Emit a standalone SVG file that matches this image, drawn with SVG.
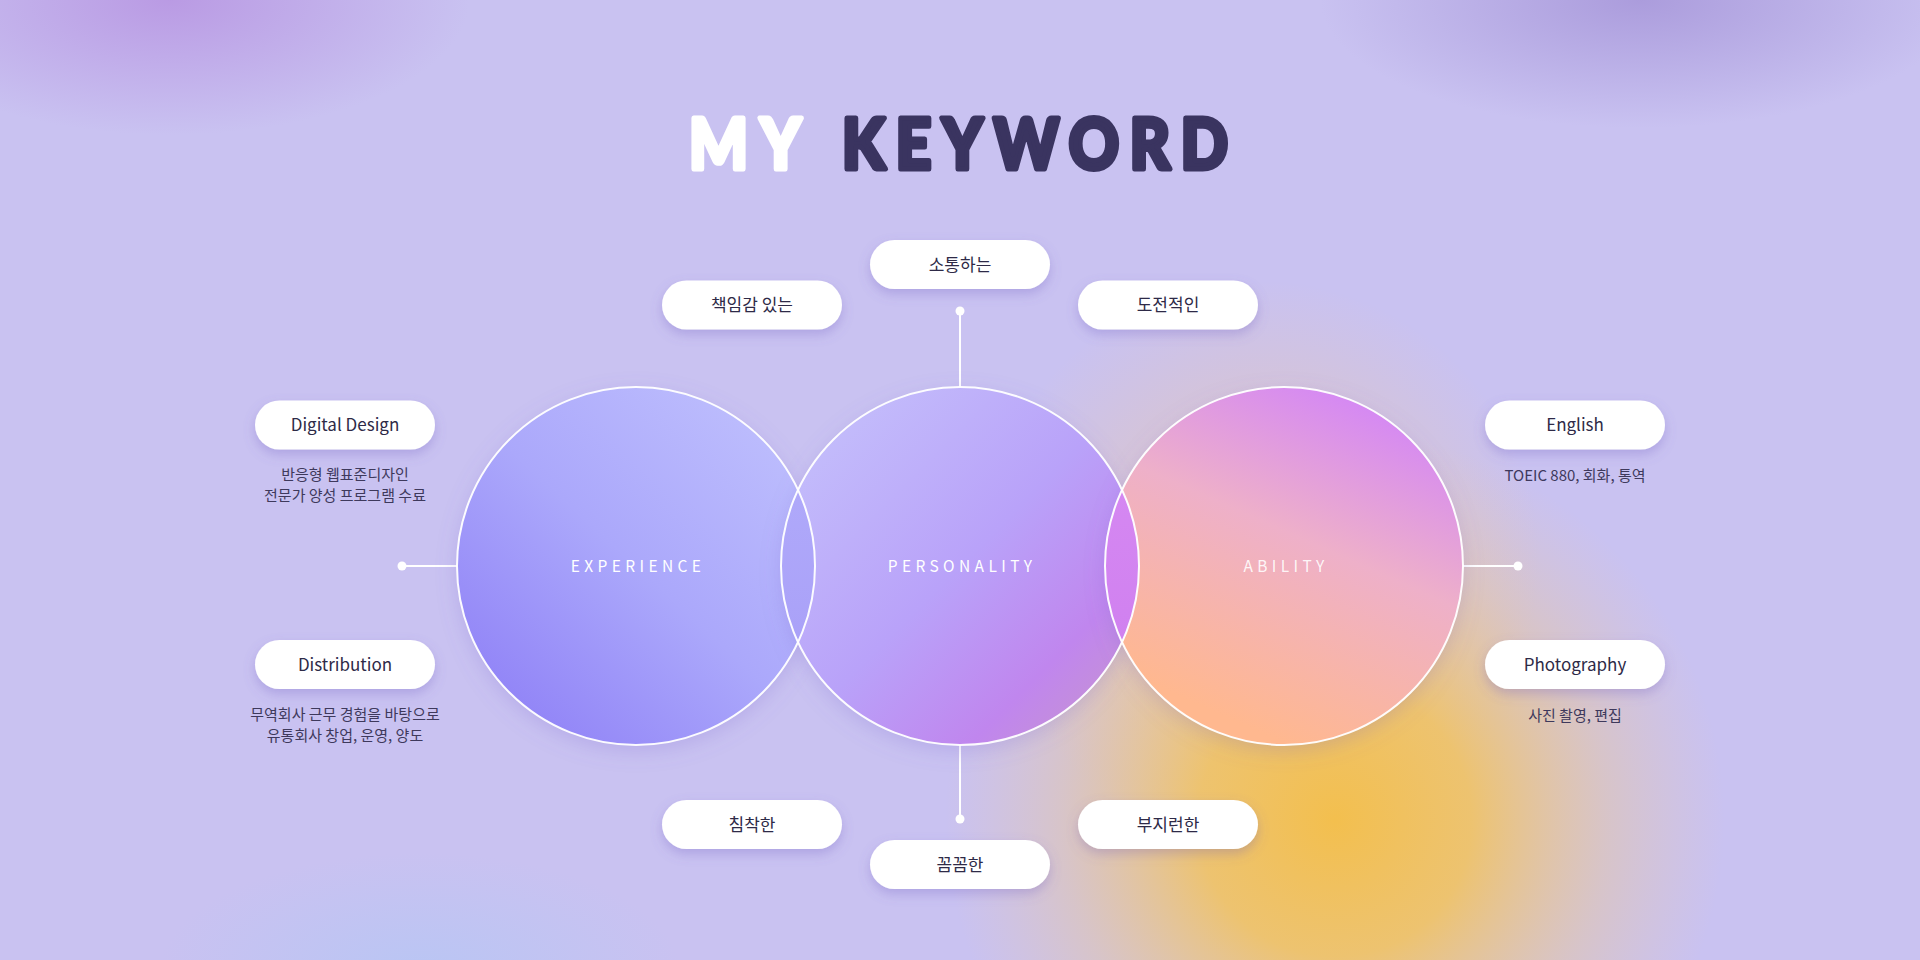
<svg xmlns="http://www.w3.org/2000/svg" width="1920" height="960" viewBox="0 0 1920 960">
<defs>
<style>
.pill{fill:#ffffff;filter:url(#pshadow)}
.pt{font-family:"Noto Sans CJK KR","Noto Sans",sans-serif;font-size:17px;font-weight:400;fill:#2e2a47;text-anchor:middle}
.ds{font-family:"Noto Sans CJK KR","Noto Sans",sans-serif;font-size:15px;font-weight:400;fill:#3e395c;text-anchor:middle}
.cl{font-family:"Noto Sans CJK KR","Noto Sans",sans-serif;font-size:15.5px;font-weight:400;fill:#ffffff;text-anchor:middle;letter-spacing:4.4px}
.ln{stroke:#ffffff;stroke-width:2;fill:none}
.dot{fill:#ffffff}
.ring{fill:none;stroke:#ffffff;stroke-width:2;stroke-opacity:0.95}
.tt{font-family:Lato,"Noto Sans",sans-serif;font-size:62px;font-weight:900;stroke-width:4.5;stroke-linejoin:round}
</style>
<filter id="pshadow" x="-30%" y="-50%" width="160%" height="220%">
<feDropShadow dx="0" dy="5" stdDeviation="6" flood-color="#6d5cc0" flood-opacity="0.3"/>
</filter>
<filter id="cshadow" x="-20%" y="-20%" width="140%" height="140%">
<feDropShadow dx="0" dy="6" stdDeviation="10" flood-color="#7d67d0" flood-opacity="0.25"/>
</filter>
<radialGradient id="gYellow" cx="1335" cy="820" r="390" gradientUnits="userSpaceOnUse">
<stop offset="0" stop-color="#f3bf4e" stop-opacity="1"/>
<stop offset="0.35" stop-color="#f2c35e" stop-opacity="0.88"/>
<stop offset="0.7" stop-color="#efc887" stop-opacity="0.38"/>
<stop offset="1" stop-color="#efc8a0" stop-opacity="0"/>
</radialGradient>
<radialGradient id="gYellow2" cx="1260" cy="560" r="280" gradientUnits="userSpaceOnUse">
<stop offset="0" stop-color="#f0c8a0" stop-opacity="0.7"/>
<stop offset="1" stop-color="#f0c8a0" stop-opacity="0"/>
</radialGradient>
<radialGradient id="gTL" cx="170" cy="0" r="300" gradientTransform="translate(170 0) scale(1 0.45) translate(-170 0)" gradientUnits="userSpaceOnUse">
<stop offset="0" stop-color="#b896e2" stop-opacity="0.9"/>
<stop offset="1" stop-color="#b896e2" stop-opacity="0"/>
</radialGradient>
<radialGradient id="gTR" cx="1640" cy="0" r="320" gradientTransform="translate(1640 0) scale(1 0.4) translate(-1640 0)" gradientUnits="userSpaceOnUse">
<stop offset="0" stop-color="#a898da" stop-opacity="0.9"/>
<stop offset="1" stop-color="#a898da" stop-opacity="0"/>
</radialGradient>
<radialGradient id="gBL" cx="420" cy="970" r="260" gradientTransform="translate(420 970) scale(1 0.45) translate(-420 -970)" gradientUnits="userSpaceOnUse">
<stop offset="0" stop-color="#b8c6f4" stop-opacity="0.9"/>
<stop offset="1" stop-color="#b8c6f4" stop-opacity="0"/>
</radialGradient>
<linearGradient id="gLeft" x1="0.85" y1="0.12" x2="0.15" y2="0.88">
<stop offset="0" stop-color="#bcbcfd"/>
<stop offset="0.5" stop-color="#aba8fb"/>
<stop offset="1" stop-color="#9285f7"/>
</linearGradient>
<linearGradient id="gMid" x1="0.15" y1="0.1" x2="0.9" y2="0.85">
<stop offset="0" stop-color="#c3bcfb"/>
<stop offset="0.5" stop-color="#b9a2f9"/>
<stop offset="0.85" stop-color="#c086ee"/>
<stop offset="1" stop-color="#c48edb"/>
</linearGradient>
<linearGradient id="gRight" x1="0.8" y1="0.05" x2="0.4" y2="0.95">
<stop offset="0" stop-color="#d386f6"/>
<stop offset="0.45" stop-color="#eeb0c9"/>
<stop offset="1" stop-color="#ffb88f"/>
</linearGradient>
<linearGradient id="gLensA" x1="0" y1="0" x2="0" y2="1">
<stop offset="0" stop-color="#b3aefb"/>
<stop offset="1" stop-color="#a69cf7"/>
</linearGradient>
<linearGradient id="gLensB" x1="0" y1="0" x2="0" y2="1">
<stop offset="0" stop-color="#d88cf3"/>
<stop offset="1" stop-color="#cd7cee"/>
</linearGradient>
<clipPath id="clipL"><circle cx="636" cy="566" r="179"/></clipPath>
<clipPath id="clipR"><circle cx="1284" cy="566" r="179"/></clipPath>
</defs>

<g id="background">
<rect x="0" y="0" width="1920" height="960" fill="#c9c2f1"/>
<rect x="0" y="0" width="1920" height="960" fill="url(#gTL)"/>
<rect x="0" y="0" width="1920" height="960" fill="url(#gTR)"/>
<rect x="0" y="0" width="1920" height="960" fill="url(#gBL)"/>
<rect x="0" y="0" width="1920" height="960" fill="url(#gYellow2)"/>
<rect x="0" y="0" width="1920" height="960" fill="url(#gYellow)"/>
</g>

<g id="title">
<text class="tt" transform="translate(0 169) scale(1 1.14)" x="689" y="0" textLength="112" lengthAdjust="spacing" fill="#ffffff" stroke="#ffffff">MY</text>
<text class="tt" transform="translate(0 169) scale(1 1.14)" x="842" y="0" textLength="386" lengthAdjust="spacing" fill="#3a3460" stroke="#3a3460">KEYWORD</text>
</g>

<g id="connectors">
<line class="ln" x1="960" y1="311" x2="960" y2="387"/>
<circle class="dot" cx="960" cy="311" r="4.5"/>
<line class="ln" x1="960" y1="745" x2="960" y2="819"/>
<circle class="dot" cx="960" cy="819" r="4.5"/>
<line class="ln" x1="402" y1="566" x2="457" y2="566"/>
<circle class="dot" cx="402" cy="566" r="4.5"/>
<line class="ln" x1="1463" y1="566" x2="1518" y2="566"/>
<circle class="dot" cx="1518" cy="566" r="4.5"/>
</g>

<g id="circles">
<g id="experience">
<circle cx="636" cy="566" r="179" fill="url(#gLeft)" filter="url(#cshadow)"/>
</g>
<g id="personality">
<circle cx="960" cy="566" r="179" fill="url(#gMid)" filter="url(#cshadow)"/>
</g>
<g id="ability">
<circle cx="1284" cy="566" r="179" fill="url(#gRight)" filter="url(#cshadow)"/>
</g>
<circle cx="960" cy="566" r="179" fill="url(#gLensA)" clip-path="url(#clipL)"/>
<circle cx="960" cy="566" r="179" fill="url(#gLensB)" clip-path="url(#clipR)"/>
<circle class="ring" cx="636" cy="566" r="179"/>
<circle class="ring" cx="960" cy="566" r="179"/>
<circle class="ring" cx="1284" cy="566" r="179"/>
<text class="cl" x="638" y="572">EXPERIENCE</text>
<text class="cl" x="962" y="572">PERSONALITY</text>
<text class="cl" x="1286" y="572" fill-opacity="0.9">ABILITY</text>
</g>

<g id="pill-sotong"><rect class="pill" x="870" y="240" width="180" height="49" rx="24.5"/><text class="pt" x="960" y="270.5">소통하는</text></g>
<g id="pill-chaegim"><rect class="pill" x="662" y="280.5" width="180" height="49" rx="24.5"/><text class="pt" x="752" y="311">책임감 있는</text></g>
<g id="pill-dojeon"><rect class="pill" x="1078" y="280.5" width="180" height="49" rx="24.5"/><text class="pt" x="1168" y="311">도전적인</text></g>

<g id="pill-digital">
<rect class="pill" x="255" y="400.5" width="180" height="49" rx="24.5"/><text class="pt" x="345" y="431">Digital Design</text>
<text class="ds" x="345" y="480">반응형 웹표준디자인</text>
<text class="ds" x="345" y="501">전문가 양성 프로그램 수료</text>
</g>
<g id="pill-distribution">
<rect class="pill" x="255" y="640" width="180" height="49" rx="24.5"/><text class="pt" x="345" y="670.5">Distribution</text>
<text class="ds" x="345" y="719.5">무역회사 근무 경험을 바탕으로</text>
<text class="ds" x="345" y="741">유통회사 창업, 운영, 양도</text>
</g>
<g id="pill-english">
<rect class="pill" x="1485" y="400.5" width="180" height="49" rx="24.5"/><text class="pt" x="1575" y="431">English</text>
<text class="ds" x="1575" y="480.5">TOEIC 880, 회화, 통역</text>
</g>
<g id="pill-photo">
<rect class="pill" x="1485" y="640" width="180" height="49" rx="24.5"/><text class="pt" x="1575" y="670.5">Photography</text>
<text class="ds" x="1575" y="720.5">사진 촬영, 편집</text>
</g>

<g id="pill-chimchak"><rect class="pill" x="662" y="800" width="180" height="49" rx="24.5"/><text class="pt" x="752" y="830.5">침착한</text></g>
<g id="pill-bujiran"><rect class="pill" x="1078" y="800" width="180" height="49" rx="24.5"/><text class="pt" x="1168" y="830.5">부지런한</text></g>
<g id="pill-kkomkkom"><rect class="pill" x="870" y="840" width="180" height="49" rx="24.5"/><text class="pt" x="960" y="870.5">꼼꼼한</text></g>
</svg>
